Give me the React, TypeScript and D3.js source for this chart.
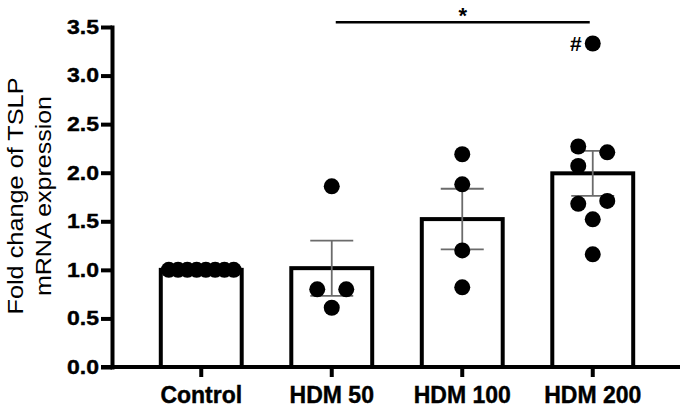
import React, { useEffect, useRef } from 'react';
import * as d3 from 'd3';

const categories = ['Control', 'HDM 50', 'HDM 100', 'HDM 200'];
const controlValues = [1, 1, 1, 1, 1, 1, 1, 1];
const hdm50Values = [1.86, 0.8, 0.8, 0.61];
const hdm100Values = [2.19, 1.88, 1.2, 0.82];
const hdm200Values = [3.33, 2.27, 2.21, 2.07, 1.71, 1.68, 1.52, 1.16];
const yTicks = [0, 0.5, 1, 1.5, 2, 2.5, 3, 3.5];
const sigPair = ['HDM 50', 'HDM 200'];
const sigLevel = 3.55;
const yLabelLines = ['Fold change of TSLP', 'mRNA expression'];

const groups = [controlValues, hdm50Values, hdm100Values, hdm200Values];

const FONT = "'Liberation Sans', Arial, sans-serif";

const App = () => {
  const svgRef = useRef<SVGSVGElement>(null);

  useEffect(() => {
    const width = 685;
    const height = 409;
    const margin = { top: 27, right: 5, bottom: 42, left: 112 };
    const r = 8;

    const svg = d3.select(svgRef.current);
    svg.selectAll('*').remove();
    svg.attr('width', width).attr('height', height);

    // Scales
    const y = d3
      .scaleLinear()
      .domain([0, 3.5])
      .range([height - margin.bottom, margin.top]);

    const x = d3
      .scaleBand<string>()
      .domain(categories)
      .range([margin.left + 24, width - 27])
      .paddingInner(0.38)
      .paddingOuter(0.19);

    const bw = x.bandwidth();

    const stats = groups.map((vals, i) => {
      const mean = d3.mean(vals) as number;
      const sd = d3.deviation(vals) || 0;
      return { cat: categories[i], vals, mean, sem: sd / Math.sqrt(vals.length) };
    });

    // column-scatter layout: spread close points left/right, ties in a row
    const half = 14.5;
    const D = 15;
    const layout = (vals: number[], cat: string) => {
      const cx = (x(cat) as number) + bw / 2;
      const sorted = [...vals].sort((a, b) => b - a);
      const allSame = sorted.length >= 3 && sorted.every((v) => v === sorted[0]);
      if (allSame) {
        const step = Math.min(2 * half, (bw - 2 * r) / (sorted.length - 1));
        return sorted.map((v, i) => ({ v, x: cx + (i - (sorted.length - 1) / 2) * step, y: y(v) }));
      }
      const placed: { v: number; x: number; y: number; off: number }[] = [];
      let lastSide = 1;
      sorted.forEach((v, i) => {
        const py = y(v);
        const next = sorted[i + 1];
        const nextClose = next !== undefined && Math.abs(y(next) - py) < D;
        const side = -lastSide;
        const cands = [side * half, -side * half, side * 2 * half, -side * 2 * half];
        if (!nextClose) cands.unshift(0);
        const off =
          cands.find((o) =>
            placed.every((p) => !(Math.abs(p.off - o) < D && Math.abs(p.y - py) < D))
          ) ?? 0;
        if (off !== 0) lastSide = Math.sign(off);
        placed.push({ v, x: cx + off, y: py, off });
      });
      return placed;
    };

    // Bars
    svg
      .append('g')
      .selectAll('rect')
      .data(stats)
      .enter()
      .append('rect')
      .attr('x', (d) => x(d.cat) as number)
      .attr('y', (d) => y(d.mean))
      .attr('width', bw)
      .attr('height', (d) => y(0) - y(d.mean))
      .attr('fill', 'white')
      .attr('stroke', 'black')
      .attr('stroke-width', 4);

    // Error bars (mean ± SEM)
    const eb = svg
      .append('g')
      .selectAll('g')
      .data(stats.filter((d) => d.sem > 0))
      .enter()
      .append('g')
      .attr('stroke', '#6b6b6b')
      .attr('stroke-width', 1.8);
    const cxOf = (d: { cat: string }) => (x(d.cat) as number) + bw / 2;
    eb.append('line')
      .attr('x1', cxOf)
      .attr('x2', cxOf)
      .attr('y1', (d) => y(d.mean + d.sem))
      .attr('y2', (d) => y(d.mean - d.sem));
    [1, -1].forEach((s) => {
      eb.append('line')
        .attr('x1', (d) => cxOf(d) - 21.5)
        .attr('x2', (d) => cxOf(d) + 21.5)
        .attr('y1', (d) => y(d.mean + s * d.sem))
        .attr('y2', (d) => y(d.mean + s * d.sem));
    });

    // X axis line + ticks
    svg
      .append('line')
      .attr('x1', margin.left - 11)
      .attr('x2', width - margin.right)
      .attr('y1', y(0))
      .attr('y2', y(0))
      .attr('stroke', 'black')
      .attr('stroke-width', 4);

    const xAxis = svg
      .append('g')
      .attr('transform', `translate(0,${y(0)})`)
      .call(d3.axisBottom(x).tickSize(10).tickSizeOuter(0).tickPadding(10));
    xAxis.select('.domain').remove();
    xAxis.selectAll('.tick line').attr('stroke', 'black').attr('stroke-width', 4);
    xAxis
      .selectAll('.tick text')
      .attr('fill', 'black')
      .attr('font-family', FONT)
      .attr('font-weight', 'bold')
      .attr('font-size', 23)
      .attr('stroke', 'black')
      .attr('stroke-width', 0.4);

    // Y axis
    const yAxis = svg
      .append('g')
      .attr('transform', `translate(${margin.left},0)`)
      .call(
        d3
          .axisLeft(y)
          .tickValues(yTicks)
          .tickFormat(d3.format('.1f'))
          .tickSize(11)
          .tickSizeOuter(0)
          .tickPadding(2)
      );
    yAxis
      .select('.domain')
      .attr('stroke', 'black')
      .attr('stroke-width', 4)
      .attr('stroke-linecap', 'square');
    yAxis.selectAll('.tick line').attr('stroke', 'black').attr('stroke-width', 4);
    yAxis
      .selectAll('.tick text')
      .attr('fill', 'black')
      .attr('font-family', FONT)
      .attr('font-weight', 'bold')
      .attr('font-size', 20)
      .attr('stroke', 'black')
      .attr('stroke-width', 0.4)
      .attr('textLength', 32)
      .attr('lengthAdjust', 'spacingAndGlyphs');

    // Points
    const dots = stats.flatMap((d) => layout(d.vals, d.cat).map((p) => ({ ...p, cat: d.cat })));
    svg
      .append('g')
      .selectAll('circle')
      .data(dots)
      .enter()
      .append('circle')
      .attr('cx', (d) => d.x)
      .attr('cy', (d) => d.y)
      .attr('r', r)
      .attr('fill', 'black');

    // outlier mark
    const last = categories[categories.length - 1];
    const top = dots.filter((d) => d.cat === last).sort((a, b) => b.v - a.v)[0];
    svg
      .append('text')
      .attr('x', top.x - 11)
      .attr('y', top.y + 7)
      .attr('text-anchor', 'end')
      .attr('font-family', FONT)
      .attr('font-weight', 'bold')
      .attr('font-size', 21)
      .text('#');

    // significance bar
    const sx1 = (x(sigPair[0]) as number) + bw / 2 + 4;
    const sx2 = (x(sigPair[1]) as number) + bw / 2 - 3;
    svg
      .append('line')
      .attr('x1', sx1)
      .attr('x2', sx2)
      .attr('y1', y(sigLevel))
      .attr('y2', y(sigLevel))
      .attr('stroke', 'black')
      .attr('stroke-width', 2.5);
    svg
      .append('text')
      .attr('x', (sx1 + sx2) / 2)
      .attr('y', y(sigLevel) + 1)
      .attr('text-anchor', 'middle')
      .attr('font-family', FONT)
      .attr('font-weight', 'bold')
      .attr('font-size', 22)
      .text('*');

    // Y axis label
    const lbl = svg
      .append('text')
      .attr('transform', `translate(23,${(y(0) + y(3.5)) / 2 - 1}) rotate(-90)`)
      .attr('text-anchor', 'middle')
      .attr('font-family', FONT)
      .attr('font-size', 22)
      .attr('fill', 'black');
    lbl
      .append('tspan')
      .attr('x', 0)
      .attr('dy', 0)
      .attr('textLength', 237)
      .attr('lengthAdjust', 'spacingAndGlyphs')
      .text(yLabelLines[0]);
    lbl
      .append('tspan')
      .attr('x', 0)
      .attr('dy', 28)
      .attr('textLength', 200)
      .attr('lengthAdjust', 'spacingAndGlyphs')
      .text(yLabelLines[1]);
  }, []);

  return (
    <div style={{ position: 'absolute', left: 0, top: 0, background: 'white' }}>
      <svg ref={svgRef} style={{ display: 'block' }}></svg>
    </div>
  );
};

export default App;
